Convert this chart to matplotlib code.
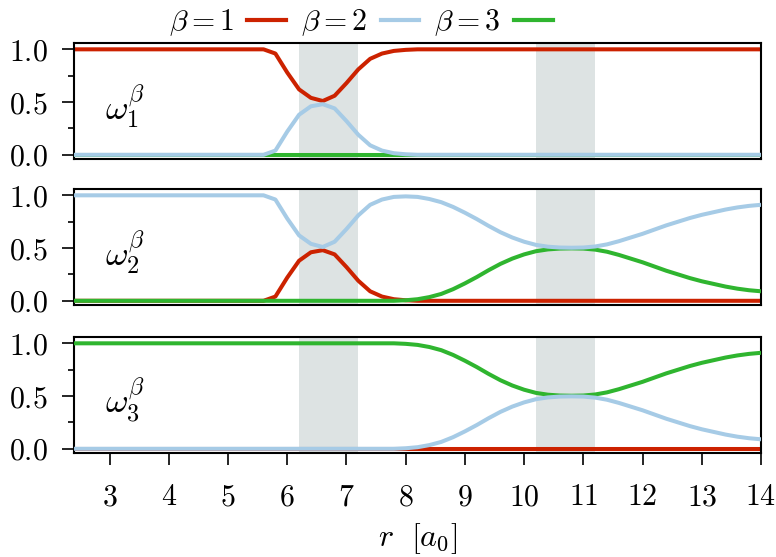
import matplotlib
matplotlib.use("Agg")
import matplotlib.pyplot as plt
from matplotlib.lines import Line2D

plt.rcParams['mathtext.fontset'] = 'cm'
plt.rcParams['font.family'] = ['DejaVu Serif']

# ---------------- data ----------------
r = [2.4, 5.6, 5.8, 6.0, 6.2, 6.4, 6.6, 6.8, 7.0, 7.2, 7.4, 7.6, 7.8, 8.0,
     8.2, 8.4, 8.6, 8.8, 9.0, 9.2, 9.4, 9.6, 9.8, 10.0, 10.2, 10.4, 10.6,
     10.8, 11.0, 11.2, 11.4, 11.6, 11.8, 12.0, 12.2, 12.4, 12.6, 12.8, 13.0,
     13.2, 13.4, 13.6, 13.8, 14.0]

# panel 1: omega_1^beta
w1_b1 = [1.0, 1.0, 0.96, 0.78, 0.62, 0.54, 0.51, 0.56, 0.68, 0.81, 0.91, 0.96,
         0.985, 0.995, 1.0, 1.0, 1.0, 1.0, 1.0, 1.0, 1.0, 1.0, 1.0, 1.0, 1.0,
         1.0, 1.0, 1.0, 1.0, 1.0, 1.0, 1.0, 1.0, 1.0, 1.0, 1.0, 1.0, 1.0, 1.0,
         1.0, 1.0, 1.0, 1.0, 1.0]
w1_b2 = [0.0, 0.0, 0.04, 0.22, 0.38, 0.46, 0.48, 0.44, 0.32, 0.19, 0.09, 0.04,
         0.015, 0.005, 0.0, 0.0, 0.0, 0.0, 0.0, 0.0, 0.0, 0.0, 0.0, 0.0, 0.0,
         0.0, 0.0, 0.0, 0.0, 0.0, 0.0, 0.0, 0.0, 0.0, 0.0, 0.0, 0.0, 0.0, 0.0,
         0.0, 0.0, 0.0, 0.0, 0.0]
w1_b3 = [0.0, 0.0, 0.0, 0.0, 0.0, 0.0, 0.0, 0.0, 0.0, 0.0, 0.0, 0.0, 0.0, 0.0,
         0.0, 0.0, 0.0, 0.0, 0.0, 0.0, 0.0, 0.0, 0.0, 0.0, 0.0, 0.0, 0.0, 0.0,
         0.0, 0.0, 0.0, 0.0, 0.0, 0.0, 0.0, 0.0, 0.0, 0.0, 0.0, 0.0, 0.0, 0.0,
         0.0, 0.0]

# panel 2: omega_2^beta
w2_b1 = [0.0, 0.0, 0.04, 0.22, 0.38, 0.46, 0.48, 0.44, 0.32, 0.19, 0.09, 0.04,
         0.015, 0.005, 0.0, 0.0, 0.0, 0.0, 0.0, 0.0, 0.0, 0.0, 0.0, 0.0, 0.0,
         0.0, 0.0, 0.0, 0.0, 0.0, 0.0, 0.0, 0.0, 0.0, 0.0, 0.0, 0.0, 0.0, 0.0,
         0.0, 0.0, 0.0, 0.0, 0.0]
w2_b2 = [1.0, 1.0, 0.96, 0.78, 0.62, 0.54, 0.51, 0.56, 0.68, 0.81, 0.91, 0.96,
         0.985, 0.99, 0.985, 0.965, 0.935, 0.89, 0.835, 0.775, 0.71, 0.65,
         0.60, 0.56, 0.53, 0.513, 0.505, 0.503, 0.505, 0.515, 0.535, 0.565,
         0.60, 0.635, 0.675, 0.715, 0.75, 0.785, 0.815, 0.84, 0.865, 0.885,
         0.90, 0.91]
w2_b3 = [0.0, 0.0, 0.0, 0.0, 0.0, 0.0, 0.0, 0.0, 0.0, 0.0, 0.0, 0.0, 0.0,
         0.005, 0.015, 0.035, 0.065, 0.11, 0.165, 0.225, 0.29, 0.35, 0.40,
         0.44, 0.47, 0.487, 0.495, 0.497, 0.495, 0.485, 0.465, 0.435, 0.40,
         0.365, 0.325, 0.285, 0.25, 0.215, 0.185, 0.16, 0.135, 0.115, 0.10,
         0.09]

# panel 3: omega_3^beta
w3_b1 = [0.0, 0.0, 0.0, 0.0, 0.0, 0.0, 0.0, 0.0, 0.0, 0.0, 0.0, 0.0, 0.0, 0.0,
         0.0, 0.0, 0.0, 0.0, 0.0, 0.0, 0.0, 0.0, 0.0, 0.0, 0.0, 0.0, 0.0, 0.0,
         0.0, 0.0, 0.0, 0.0, 0.0, 0.0, 0.0, 0.0, 0.0, 0.0, 0.0, 0.0, 0.0, 0.0,
         0.0, 0.0]
w3_b2 = [0.0, 0.0, 0.0, 0.0, 0.0, 0.0, 0.0, 0.0, 0.0, 0.0, 0.0, 0.0, 0.0,
         0.005, 0.015, 0.035, 0.065, 0.11, 0.165, 0.225, 0.29, 0.35, 0.40,
         0.44, 0.47, 0.487, 0.495, 0.497, 0.495, 0.485, 0.465, 0.435, 0.40,
         0.365, 0.325, 0.285, 0.25, 0.215, 0.185, 0.16, 0.135, 0.115, 0.10,
         0.09]
w3_b3 = [1.0, 1.0, 1.0, 1.0, 1.0, 1.0, 1.0, 1.0, 1.0, 1.0, 1.0, 1.0, 1.0,
         0.995, 0.985, 0.965, 0.935, 0.89, 0.835, 0.775, 0.71, 0.65, 0.60,
         0.56, 0.53, 0.513, 0.505, 0.503, 0.505, 0.515, 0.535, 0.565, 0.60,
         0.635, 0.675, 0.715, 0.75, 0.785, 0.815, 0.84, 0.865, 0.885, 0.90,
         0.91]

panels = [
    (w1_b1, w1_b2, w1_b3, r'$\omega_1^\beta$'),
    (w2_b1, w2_b2, w2_b3, r'$\omega_2^\beta$'),
    (w3_b1, w3_b2, w3_b3, r'$\omega_3^\beta$'),
]
shaded = [(6.2, 7.2), (10.2, 11.2)]
xticks = [3, 4, 5, 6, 7, 8, 9, 10, 11, 12, 13, 14]
xticklabels = ['$%d$' % t for t in xticks]
yticks = [0.0, 0.5, 1.0]
yticklabels = ['$0.0$', '$0.5$', '$1.0$']
legend_labels = [r'$\beta=1$', r'$\beta=2$', r'$\beta=3$']

c1 = '#cc2200'
c2 = '#a6cbe6'
c3 = '#2fb52f'
shade_c = '#dde3e3'

# ---------------- figure ----------------
fig = plt.figure(figsize=(7.76, 5.57), dpi=100)
left, width, height = 0.0954, 0.8853, 0.2083
bottoms = [0.7145, 0.4524, 0.1867]

for i, (b1, b2, b3, lab) in enumerate(panels):
    ax = fig.add_axes([left, bottoms[i], width, height])
    for (a, b) in shaded:
        ax.axvspan(a, b, color=shade_c, lw=0, zorder=0)
    lw = 2.9
    ax.plot(r, b1, color=c1, lw=lw, zorder=2, solid_capstyle='butt')
    ax.plot(r, b3, color=c3, lw=lw, zorder=3, solid_capstyle='butt')
    ax.plot(r, b2, color=c2, lw=lw, zorder=4, solid_capstyle='butt')
    ax.set_xlim(2.4, 14.0)
    ax.set_ylim(-0.04, 1.06)
    ax.set_yticks(yticks)
    ax.set_yticklabels(yticklabels)
    ax.set_yticks([0.25, 0.75], minor=True)
    ax.tick_params(axis='y', which='major', length=8.6, width=1.2,
                   labelsize=21.5, pad=10)
    ax.tick_params(axis='y', which='minor', length=4.3, width=1.2)
    for s in ax.spines.values():
        s.set_linewidth(1.5)
    ax.text(0.045, 0.45, lab, transform=ax.transAxes, fontsize=25,
            va='center', ha='left')
    if i < 2:
        ax.set_xticks([])
    else:
        ax.set_xticks(xticks)
        ax.set_xticklabels(xticklabels)
        ax.tick_params(axis='x', which='major', length=8.6, width=1.2,
                       labelsize=21.5, pad=13)
        ax.set_xlabel(r'$r\ \ [a_0]$', fontsize=23, labelpad=7)

handles = [Line2D([], [], color=c, lw=3) for c in (c1, c2, c3)]
fig.legend(handles, legend_labels, loc='upper center',
           bbox_to_anchor=(0.465, 1.035), ncol=3, frameon=False,
           fontsize=21.5, markerfirst=False, handlelength=1.3,
           handletextpad=0.45, columnspacing=0.5)

fig.savefig('out.png', dpi=100)
